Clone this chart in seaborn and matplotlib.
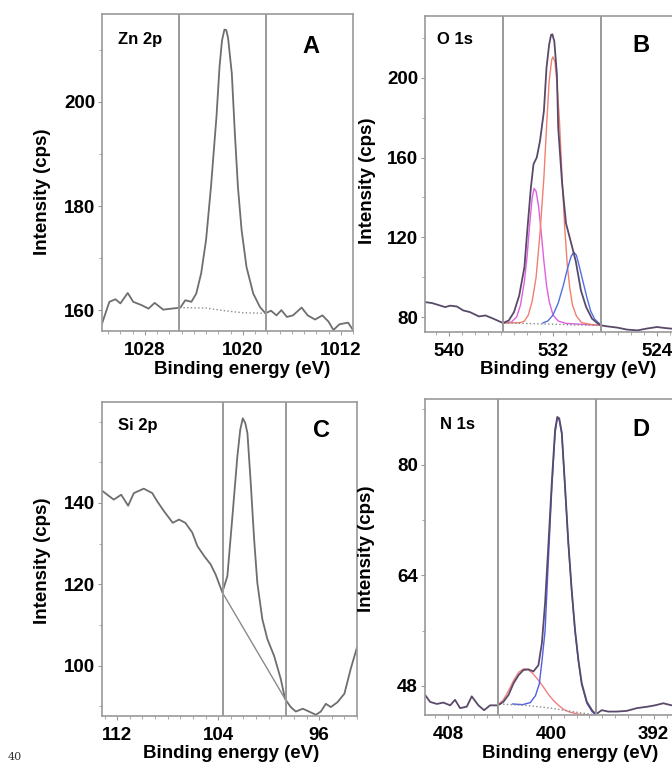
import matplotlib
matplotlib.use("Agg")
import matplotlib.pyplot as plt
from matplotlib.ticker import MultipleLocator
import seaborn as sns

# ---- Panel A: Zn 2p ----
zn_energy = [1031.5, 1030.9, 1030.4, 1030.0, 1029.4, 1028.95, 1028.3, 1027.7, 1027.2, 1026.5,
             1025.8, 1025.1, 1024.7, 1024.2, 1023.8, 1023.4, 1023.0, 1022.6, 1022.15, 1021.9,
             1021.7, 1021.5, 1021.35, 1021.2, 1020.9, 1020.65, 1020.4, 1020.1, 1019.7, 1019.15, 1018.6,
             1018.15, 1017.7, 1017.25, 1016.85, 1016.4, 1015.9, 1015.2, 1014.7, 1014.1, 1013.5,
             1013.0, 1012.6, 1012.1, 1011.4, 1011.0]
zn_counts = [157.4, 161.6, 162.1, 161.3, 163.3, 161.6, 161.0, 160.3, 161.4, 160.1,
             160.3, 160.5, 161.9, 161.6, 163.2, 167.1, 173.5, 183.7, 197.2, 206.8,
             211.8, 213.9, 213.8, 212.2, 205.5, 194.0, 183.7, 175.4, 168.3, 163.2, 160.6,
             159.4, 159.9, 159.0, 160.0, 158.7, 159.0, 160.5, 159.0, 158.2, 159.0,
             157.8, 156.2, 157.3, 157.6, 156.2]
zn_bg_energy = [1025.2, 1023.0, 1021.5, 1020.0, 1018.15]
zn_bg_counts = [160.5, 160.4, 159.9, 159.5, 159.4]
zn_ticks = [1028, 1020, 1012]

# ---- Panel B: O 1s ----
o_energy = [541.85, 541.3, 540.7, 540.3, 539.9, 539.4, 538.9, 538.4, 537.7, 537.2, 536.6, 535.85,
            535.4, 535.0, 534.6, 534.2, 534.0, 533.7, 533.5, 533.25, 533.0, 532.7, 532.5, 532.3,
            532.15, 532.05, 531.9, 531.7, 531.6, 531.3, 531.0, 530.6, 530.25, 529.85, 529.45, 529.0,
            528.6, 528.3, 527.8, 527.05, 526.3, 525.5, 524.8, 524.0, 523.4, 522.6]
o_counts = [87.5, 87.0, 85.8, 85.0, 85.7, 85.3, 83.3, 82.5, 80.3, 80.8, 79.2, 77.0,
            78.3, 82.5, 90.8, 105.0, 121.7, 145.0, 156.7, 160.0, 168.3, 183.3, 205.0, 216.5,
            221.5, 221.8, 218.3, 201.7, 175.0, 147.0, 127.0, 117.0, 108.0, 93.3, 85.0, 79.2,
            77.0, 75.8, 75.3, 74.7, 73.7, 73.3, 74.2, 75.0, 74.5, 74.0]
o_mag_energy = [535.8, 535.2, 534.8, 534.5, 534.2, 534.0, 533.8, 533.6, 533.45, 533.3, 533.1,
                532.9, 532.7, 532.5, 532.3, 532.0, 531.6, 531.0, 528.3]
o_mag_counts = [77.0, 77.5, 80.0, 86.0, 98.0, 110.0, 126.0, 140.0, 144.5, 143.0, 135.0,
                122.0, 108.0, 96.0, 88.0, 81.0, 78.0, 76.8, 75.8]
o_red_energy = [535.8, 534.5, 534.2, 533.9, 533.6, 533.3, 533.0, 532.7, 532.5, 532.3, 532.1,
                532.0, 531.85, 531.7, 531.5, 531.3, 531.1, 530.9, 530.7, 530.5, 530.2, 529.8,
                529.0, 528.3]
o_red_counts = [77.0, 77.2, 78.0, 81.0, 88.0, 100.0, 122.0, 150.0, 175.0, 198.0, 209.0,
                210.5, 208.0, 198.0, 178.0, 150.0, 125.0, 106.0, 94.0, 86.0, 80.5, 77.2,
                76.2, 75.8]
o_blue_energy = [532.8, 532.4, 532.0, 531.6, 531.2, 530.9, 530.6, 530.4, 530.2, 530.0, 529.7,
                 529.4, 529.1, 528.8, 528.4, 528.3]
o_blue_counts = [77.0, 78.0, 81.0, 87.0, 96.0, 104.0, 110.5, 112.5, 111.0, 106.0, 98.0,
                 90.0, 83.0, 79.0, 76.5, 76.0]
o_bg_energy = [535.85, 533.0, 530.5, 528.3]
o_bg_counts = [77.0, 76.6, 76.1, 75.8]
o_ticks = [540, 532, 524]

# ---- Panel C: Si 2p ----
si_energy = [113.16, 112.27, 111.68, 111.13, 110.68, 109.89, 109.22, 108.83, 108.3, 107.6,
             107.1, 106.6, 106.05, 105.65, 105.1, 104.6, 104.2, 103.67, 103.27, 102.87,
             102.48, 102.25, 102.05, 101.85, 101.68, 101.42, 101.15, 100.9, 100.5, 100.1, 99.57,
             99.04, 98.7, 98.25, 97.85, 97.3, 96.8, 96.26, 95.87, 95.47, 95.07,
             94.55, 94.0, 93.5, 93.0]
si_counts = [142.9, 140.8, 142.0, 139.3, 142.4, 143.5, 142.4, 140.4, 138.0, 135.1,
             135.9, 135.1, 132.7, 129.4, 126.9, 124.9, 122.4, 118.0, 122.0, 136.7,
             151.4, 158.0, 160.8, 159.6, 157.1, 144.9, 131.0, 120.4, 111.4, 106.5, 102.4,
             96.7, 91.8, 89.8, 88.7, 89.4, 88.7, 87.9, 88.7, 90.6, 89.8,
             91.0, 93.1, 99.2, 104.5]
si_bg_energy = [103.67, 98.7]
si_bg_counts = [118.0, 91.8]
si_ticks = [112, 104, 96]

# ---- Panel D: N 1s ----
n_energy = [409.79, 409.4, 408.88, 408.37, 407.84, 407.46, 407.07, 406.55, 406.16, 405.64,
            405.2, 404.73, 404.13, 403.7, 403.3, 402.9, 402.5, 402.14, 401.75, 401.36,
            400.97, 400.7, 400.45, 400.2, 399.93, 399.67, 399.5, 399.35, 399.15, 398.9, 398.64,
            398.38, 398.12, 397.86, 397.6, 397.2, 396.8, 396.5, 396.04, 395.53, 394.87,
            394.1, 393.3, 392.5, 391.9, 391.25, 390.6]
n_counts = [46.7, 45.7, 45.4, 45.6, 45.2, 46.0, 44.8, 45.0, 46.5, 45.2,
            44.5, 45.2, 45.2, 45.7, 46.7, 48.4, 49.6, 50.3, 50.4, 50.1,
            51.0, 54.2, 60.0, 68.2, 77.4, 85.1, 86.9, 86.7, 84.6, 76.9, 68.7,
            61.9, 56.1, 51.8, 48.4, 45.7, 44.5, 43.9, 44.5, 44.3, 44.3,
            44.4, 44.8, 45.0, 45.2, 45.5, 45.2]
n_red_energy = [404.1, 403.7, 403.3, 402.9, 402.5, 402.1, 401.8, 401.4, 401.0, 400.6, 400.2,
                399.8, 399.4, 399.0, 398.5, 397.8, 397.0, 396.5]
n_red_counts = [45.3, 46.0, 47.3, 48.8, 50.0, 50.5, 50.4, 49.8, 48.9, 47.9, 46.8,
                45.9, 45.2, 44.6, 44.2, 43.9, 43.8, 43.8]
n_blue_energy = [403.0, 402.2, 401.6, 401.2, 400.9, 400.7, 400.45, 400.2, 399.93, 399.67,
                 399.5, 399.35, 399.15, 398.9, 398.64, 398.38, 398.12, 397.86, 397.6, 397.2,
                 396.8, 396.5]
n_blue_counts = [45.4, 45.3, 45.6, 46.6, 48.3, 51.5, 56.0, 66.0, 76.5, 84.6,
                 86.7, 86.5, 84.4, 76.7, 68.5, 61.7, 55.9, 51.6, 48.2, 45.5, 44.3, 43.8]
n_bg_energy = [404.1, 402.0, 400.0, 398.0, 396.5]
n_bg_counts = [45.4, 45.2, 44.8, 44.2, 43.8]
n_ticks = [408, 400, 392]

sns.set_theme(style="white")
plt.rcParams["font.family"] = ["Liberation Sans", "DejaVu Sans"]
plt.rcParams["text.color"] = "black"
plt.rcParams["axes.labelcolor"] = "black"

GREY = "#6e6e6e"
FRAME = "#9a9a9a"

fig = plt.figure(figsize=(6.72, 7.71), dpi=100)


def setup_axis(ax, xlim, ylim, xticks, yticks, yminor, vlines, element, letter,
               elem_xy, letter_xy, ylab_xy, xlab_xy):
    ax.set_xlim(*xlim)
    ax.set_ylim(*ylim)
    ax.set_xticks(xticks)
    ax.xaxis.set_minor_locator(MultipleLocator(1))
    ax.set_yticks(yticks)
    ax.yaxis.set_minor_locator(MultipleLocator(yminor))
    for v in vlines:
        ax.axvline(v, color=FRAME, linewidth=1.4)
    for s in ax.spines.values():
        s.set_color(FRAME)
        s.set_linewidth(1.2)
    ax.tick_params(axis="both", which="major", direction="out", length=3, width=0.8,
                   color=FRAME, labelcolor="black", labelsize=13.5, bottom=True, left=True)
    ax.tick_params(axis="x", which="major", pad=5)
    ax.tick_params(axis="y", which="major", pad=2)
    ax.tick_params(axis="both", which="minor", direction="out", length=2, width=0.6,
                   color=FRAME, bottom=True, left=True)
    for lab in ax.get_xticklabels() + ax.get_yticklabels():
        lab.set_fontweight("bold")
    ax.set_xlabel("Binding energy (eV)", fontsize=13.5, fontweight="bold")
    ax.set_ylabel("Intensity (cps)", fontsize=13.5, fontweight="bold")
    ax.xaxis.set_label_coords(*xlab_xy)
    ax.yaxis.set_label_coords(*ylab_xy)
    ax.text(elem_xy[0], elem_xy[1], element, transform=ax.transAxes, fontsize=12,
            fontweight="bold", ha="left", va="center")
    ax.text(letter_xy[0], letter_xy[1], letter, transform=ax.transAxes, fontsize=17,
            fontweight="bold", ha="center", va="center")


def draw(ax, x, y, color=GREY, lw=1.3, ls="-"):
    sns.lineplot(x=x, y=y, ax=ax, color=color, linewidth=lw, linestyle=ls)


# Panel A
axA = fig.add_axes([0.1518, 0.5707, 0.3735, 0.4112])
draw(axA, zn_energy, zn_counts)
draw(axA, zn_bg_energy, zn_bg_counts, color="#8a8a8a", lw=1.0, ls=":")
setup_axis(axA, (1031.5, 1011.0), (156.0, 216.9), zn_ticks, [160, 180, 200], 10, [1025.2, 1018.1],
           "Zn 2p", "A", (0.064, 0.918), (0.833, 0.896), (-0.203, 0.44), (0.558, -0.095))

# Panel B
axB = fig.add_axes([0.6324, 0.5694, 0.3735, 0.4099])
draw(axB, o_mag_energy, o_mag_counts, color="#e060e0", lw=1.0)
draw(axB, o_red_energy, o_red_counts, color="#f08070", lw=1.0)
draw(axB, o_blue_energy, o_blue_counts, color="#5070e0", lw=1.0)
draw(axB, o_bg_energy, o_bg_counts, color="#8a8a8a", lw=1.0, ls=":")
draw(axB, o_energy, o_counts, color="#5a4a6a")
setup_axis(axB, (541.85, 522.54), (72.5, 231.0), o_ticks, [80, 120, 160, 200], 20, [535.85, 528.3],
           "O 1s", "B", (0.048, 0.924), (0.861, 0.908), (-0.195, 0.48), (0.57, -0.092))

# Panel C
axC = fig.add_axes([0.1518, 0.0713, 0.3795, 0.4073])
draw(axC, si_energy, si_counts)
draw(axC, si_bg_energy, si_bg_counts, color="#8a8a8a", lw=1.0)
setup_axis(axC, (113.2, 93.0), (87.6, 164.8), si_ticks, [100, 120, 140], 10, [103.6, 98.6],
           "Si 2p", "C", (0.063, 0.925), (0.859, 0.908), (-0.2, 0.494), (0.506, -0.092))

# Panel D
axD = fig.add_axes([0.6324, 0.0726, 0.3795, 0.4099])
draw(axD, n_red_energy, n_red_counts, color="#f08080", lw=1.0)
draw(axD, n_blue_energy, n_blue_counts, color="#5060e0", lw=1.0)
draw(axD, n_bg_energy, n_bg_counts, color="#8a8a8a", lw=1.0, ls=":")
draw(axD, n_energy, n_counts, color="#5a4a6a")
setup_axis(axD, (409.8, 389.95), (43.8, 89.5), n_ticks, [48, 64, 80], 8, [404.1, 396.5],
           "N 1s", "D", (0.06, 0.919), (0.845, 0.902), (-0.195, 0.525), (0.57, -0.095))

fig.text(0.0223, 0.018, "40", fontsize=8, family="DejaVu Serif", color="#333333",
         ha="center", va="center")

fig.savefig("out.png", dpi=100)
plt.close(fig)
